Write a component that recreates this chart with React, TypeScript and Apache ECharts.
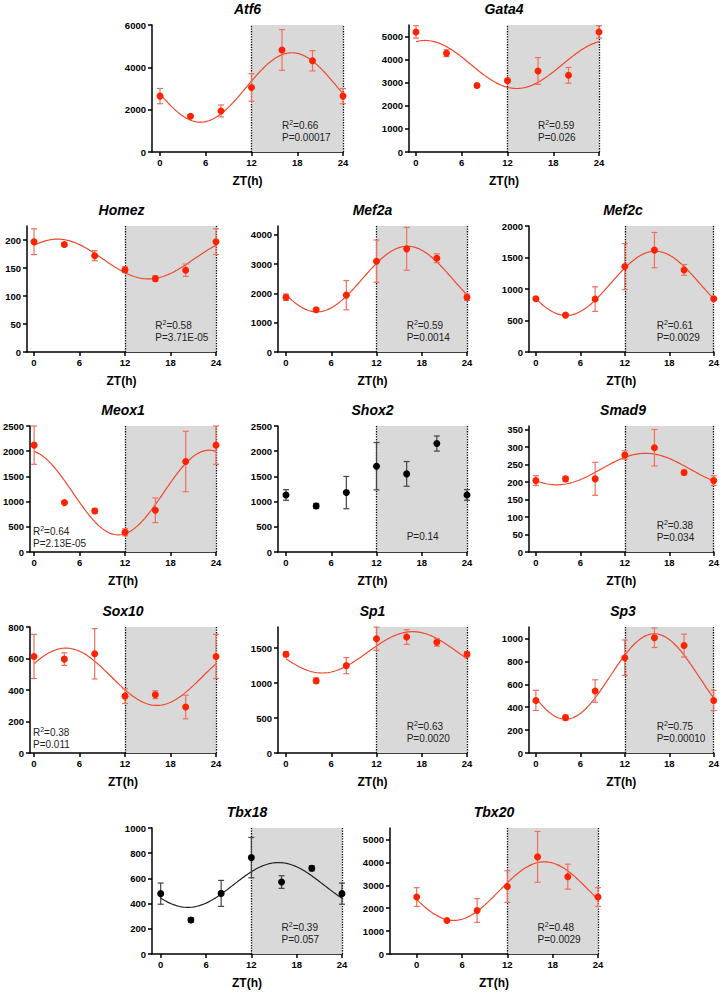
import React, { useEffect, useRef } from "react";
import * as echarts from "echarts";

// ---------- data ----------
const ZT = [0, 4, 8, 12, 16, 20, 24];
const X_TICKS = [0, 6, 12, 18, 24];

const GENES = ["Atf6", "Gata4", "Homez", "Mef2a", "Mef2c", "Meox1", "Shox2", "Smad9", "Sox10", "Sp1", "Sp3", "Tbx18", "Tbx20"];

const atf6Mean = [2640, 1690, 1940, 3050, 4820, 4310, 2640];
const atf6Sem = [360, 60, 280, 650, 960, 480, 360];
const gata4Mean = [5200, 4280, 2880, 3090, 3510, 3320, 5200];
const gata4Sem = [270, 150, 80, 60, 580, 340, 270];
const homezMean = [197, 192, 172, 147, 131, 146, 197];
const homezSem = [23, 3, 9, 5, 5, 11, 23];
const mef2aMean = [1870, 1440, 1940, 3100, 3520, 3200, 1870];
const mef2aSem = [110, 50, 500, 720, 730, 150, 110];
const mef2cMean = [846, 585, 840, 1356, 1617, 1303, 846];
const mef2cSem = [20, 15, 195, 365, 280, 85, 20];
const meox1Mean = [2120, 980, 815, 391, 828, 1795, 2120];
const meox1Sem = [380, 15, 50, 70, 245, 600, 380];
const shox2Mean = [1132, 914, 1179, 1702, 1550, 2152, 1132];
const shox2Sem = [105, 50, 320, 470, 245, 150, 105];
const smad9Mean = [204, 209, 209, 277, 298, 227, 204];
const smad9Sem = [14, 7, 47, 12, 52, 7, 14];
const sox10Mean = [613, 596, 630, 361, 370, 292, 613];
const sox10Sem = [140, 40, 160, 47, 25, 75, 140];
const sp1Mean = [1410, 1033, 1248, 1633, 1657, 1581, 1410];
const sp1Sem = [35, 40, 115, 165, 105, 55, 35];
const sp3Mean = [459, 309, 541, 832, 1006, 938, 459];
const sp3Sem = [88, 22, 98, 155, 85, 100, 88];
const tbx18Mean = [479, 270, 481, 765, 571, 680, 479];
const tbx18Sem = [84, 18, 103, 160, 50, 20, 84];
const tbx20Mean = [2486, 1466, 1897, 2945, 4239, 3376, 2486];
const tbx20Sem = [410, 30, 520, 690, 1110, 545, 410];

const MEANS = [atf6Mean, gata4Mean, homezMean, mef2aMean, mef2cMean, meox1Mean, shox2Mean, smad9Mean, sox10Mean, sp1Mean, sp3Mean, tbx18Mean, tbx20Mean];
const SEMS = [atf6Sem, gata4Sem, homezSem, mef2aSem, mef2cSem, meox1Sem, shox2Sem, smad9Sem, sox10Sem, sp1Sem, sp3Sem, tbx18Sem, tbx20Sem];

// cosinor fit parameters (mesor, amplitude, peak time in h); null = no fit drawn
const FIT_MESOR = [3050, 3790, 166, 2490, 1090, 1180, null, 237, 484, 1438, 668, 548, 2745];
const FIT_AMP = [1640, 1040, 35.5, 1120, 510, 840, null, 45, 182, 295, 373, 178, 1280];
const FIT_PEAK = [17.3, 1.2, 3.1, 16.1, 16.1, 23.1, null, 14.8, 4.2, 16.8, 16.0, 15.6, 16.9];

const R2 = ["0.66", "0.59", "0.58", "0.59", "0.61", "0.64", null, "0.38", "0.38", "0.63", "0.75", "0.39", "0.48"];
const PVAL = ["0.00017", "0.026", "3.71E-05", "0.0014", "0.0029", "2.13E-05", "0.14", "0.034", "0.011", "0.0020", "0.00010", "0.057", "0.0029"];

const Y_MAX = [6000, 5500, 225, 4300, 2000, 2500, 2500, 360, 800, 1800, 1100, 1000, 5500];
const Y_TICKS = [
  [0, 2000, 4000, 6000],
  [0, 1000, 2000, 3000, 4000, 5000],
  [0, 50, 100, 150, 200],
  [0, 1000, 2000, 3000, 4000],
  [0, 500, 1000, 1500, 2000],
  [0, 500, 1000, 1500, 2000, 2500],
  [0, 500, 1000, 1500, 2000, 2500],
  [0, 50, 100, 150, 200, 250, 300, 350],
  [0, 200, 400, 600, 800],
  [0, 500, 1000, 1500],
  [0, 200, 400, 600, 800, 1000],
  [0, 200, 400, 600, 800, 1000],
  [0, 1000, 2000, 3000, 4000, 5000],
];
const BLACK = [false, false, false, false, false, false, true, false, false, false, false, true, false];

// ---------- layout (pixels): [yAxisX, x0px, x24px, top, bottom, textMode] ----------
const LAYOUT: [number, number, number, number, number, string][] = [
  [152, 160, 343, 25, 152, "right"],
  [409, 416, 599, 25, 152, "right"],
  [27, 34, 216, 226, 352, "right"],
  [278, 286, 467, 226, 352, "right"],
  [529, 536, 717, 226, 352, "right"],
  [30, 34, 216, 426, 552, "left"],
  [278, 286, 467, 426, 552, "right"],
  [529, 536, 717, 426, 552, "right"],
  [30, 34, 216, 627, 753, "left"],
  [278, 286, 467, 627, 753, "right"],
  [529, 536, 717, 627, 753, "right"],
  [152, 160.7, 342, 828, 954, "right"],
  [390, 416.7, 598, 828, 954, "right"],
];

const FONT = "'Liberation Sans', Arial, Helvetica, sans-serif";
const RED = "#ff2200";
const RED_LINE = "#f2482c";
const RED_ERR = "#f0705e";

function buildOption() {
  const grid: any[] = [];
  const xAxis: any[] = [];
  const yAxis: any[] = [];
  const series: any[] = [];
  const graphic: any[] = [];

  GENES.forEach((g, i) => {
    const [ax, x0, x24, top, bottom, mode] = LAYOUT[i];
    const xmin = (-(x0 - ax) * 24) / (x24 - x0);
    const pxPerH = (x24 - x0) / 24;
    const black = BLACK[i];
    const ptColor = black ? "#000" : RED;
    const lnColor = black ? "#222" : RED_LINE;
    const errColor = black ? "#444" : RED_ERR;

    grid.push({ left: ax, top, width: x24 - ax, height: bottom - top });
    xAxis.push({
      type: "value",
      gridIndex: i,
      min: xmin,
      max: 24,
      splitLine: { show: false },
      axisLine: { show: true, onZero: false, lineStyle: { color: "#000", width: 1.5 } },
      axisTick: { show: true, customValues: X_TICKS, length: 4, lineStyle: { color: "#000", width: 1.5 } },
      axisLabel: { customValues: X_TICKS, color: "#000", fontSize: 9.5, fontWeight: "bold", fontFamily: FONT, margin: 5, formatter: (v: number) => String(v) },
      name: "ZT(h)",
      nameLocation: "middle",
      nameGap: 23,
      nameTextStyle: { color: "#000", fontSize: 12, fontWeight: "bold", fontFamily: FONT },
    });
    yAxis.push({
      type: "value",
      gridIndex: i,
      min: 0,
      max: Y_MAX[i],
      splitLine: { show: false },
      axisLine: { show: true, onZero: false, lineStyle: { color: "#000", width: 1.5 } },
      axisTick: { show: true, customValues: Y_TICKS[i], length: 4, lineStyle: { color: "#000", width: 1.5 } },
      axisLabel: { customValues: Y_TICKS[i], color: "#000", fontSize: 9.5, fontWeight: "bold", fontFamily: FONT, margin: 6, formatter: (v: number) => String(v) },
    });

    // fitted curve
    if (FIT_MESOR[i] !== null) {
      const m = FIT_MESOR[i] as number;
      const a = FIT_AMP[i] as number;
      const p = FIT_PEAK[i] as number;
      const pts: number[][] = [];
      for (let k = 0; k <= 120; k++) {
        const t = (k * 24) / 120;
        pts.push([t, m + a * Math.cos((2 * Math.PI * (t - p)) / 24)]);
      }
      series.push({
        type: "line",
        xAxisIndex: i,
        yAxisIndex: i,
        data: pts,
        showSymbol: false,
        symbol: "none",
        lineStyle: { color: lnColor, width: 1.2 },
        z: 3,
        silent: true,
      });
    }

    // error bars
    const mean = MEANS[i];
    const sem = SEMS[i];
    series.push({
      type: "custom",
      xAxisIndex: i,
      yAxisIndex: i,
      data: ZT.map((t, j) => [t, mean[j], sem[j]]),
      encode: { x: 0, y: 1 },
      z: 4,
      silent: true,
      renderItem: (params: any, api: any) => {
        const x = api.value(0);
        const mv = api.value(1);
        const sv = api.value(2);
        const tp = api.coord([x, mv + sv]);
        const bt = api.coord([x, mv - sv]);
        const cap = 3;
        const st = { stroke: errColor, lineWidth: 1.2 };
        return {
          type: "group",
          children: [
            { type: "line", shape: { x1: tp[0], y1: tp[1], x2: bt[0], y2: bt[1] }, style: st },
            { type: "line", shape: { x1: tp[0] - cap, y1: tp[1], x2: tp[0] + cap, y2: tp[1] }, style: st },
            { type: "line", shape: { x1: bt[0] - cap, y1: bt[1], x2: bt[0] + cap, y2: bt[1] }, style: st },
          ],
        };
      },
    });

    // points + dark phase shading
    series.push({
      type: "scatter",
      xAxisIndex: i,
      yAxisIndex: i,
      data: ZT.map((t, j) => [t, mean[j]]),
      symbolSize: 7,
      itemStyle: { color: ptColor, opacity: 1 },
      z: 5,
      silent: true,
      markArea: {
        silent: true,
        itemStyle: { color: "#d9d9d9" },
        data: [[{ xAxis: 12 }, { xAxis: 24 }]],
      },
      markLine: {
        silent: true,
        z: 2,
        symbol: ["none", "none"],
        label: { show: false },
        lineStyle: { color: "#000", type: "dotted", width: 1.3 },
        data: [{ xAxis: 12 }, { xAxis: 24 }],
      },
    });

    // title
    graphic.push({
      type: "text",
      x: (ax + x24) / 2,
      y: top - 16,
      z: 100,
      style: {
        text: g,
        fill: "#000",
        fontSize: 14,
        fontWeight: "bold",
        fontStyle: "italic",
        fontFamily: FONT,
        align: "center",
        verticalAlign: "middle",
        textAlign: "center",
        textVerticalAlign: "middle",
      },
    });

    // statistics text
    const tx = mode === "left" ? ax + 3 : x0 + 16 * pxPerH;
    const y1 = mode === "left" ? bottom - 21 : bottom - 27;
    const y2 = mode === "left" ? bottom - 9 : bottom - 15;
    const stStyle = { fill: "#222", fontSize: 10, fontFamily: FONT, align: "left", verticalAlign: "middle", textAlign: "left", textVerticalAlign: "middle" };
    if (R2[i] !== null) {
      graphic.push({
        type: "text",
        x: tx,
        y: y1,
        z: 100,
        style: {
          ...stStyle,
          text: "R{s|2}=" + R2[i],
          rich: { s: { fontSize: 7, verticalAlign: "top", fill: "#222", fontFamily: FONT, lineHeight: 12 } },
          lineHeight: 12,
        },
      });
      graphic.push({ type: "text", x: tx, y: y2, z: 100, style: { ...stStyle, text: "P=" + PVAL[i] } });
    } else {
      graphic.push({ type: "text", x: tx, y: bottom - 16, z: 100, style: { ...stStyle, text: "P=" + PVAL[i] } });
    }
  });

  return { animation: false, backgroundColor: "#fff", grid, xAxis, yAxis, series, graphic };
}

export default function App() {
  const ref = useRef<HTMLDivElement>(null);
  useEffect(() => {
    if (!ref.current) return;
    const chart = echarts.init(ref.current, null, { renderer: "svg" });
    chart.setOption(buildOption() as any);
    return () => chart.dispose();
  }, []);
  return <div ref={ref} style={{ position: "absolute", left: 0, top: 0, width: 722, height: 992 }} />;
}
